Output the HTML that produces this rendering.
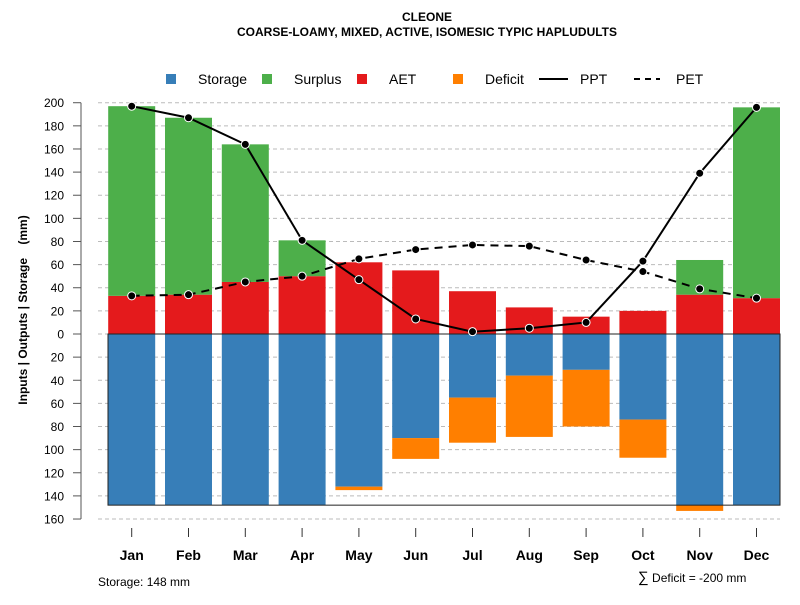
<!DOCTYPE html>
<html><head><meta charset="utf-8"><style>
body{margin:0;background:#fff}
svg text{font-family:"Liberation Sans",Arial,sans-serif}
</style></head><body>
<svg id="chart" width="800" height="600" xmlns="http://www.w3.org/2000/svg">
<text x="427" y="21" font-size="12" font-weight="bold" text-anchor="middle">CLEONE</text>
<text x="427" y="36" font-size="12" font-weight="bold" text-anchor="middle">COARSE-LOAMY, MIXED, ACTIVE, ISOMESIC TYPIC HAPLUDULTS</text>
<g id="legend" font-size="14">
<rect x="166" y="74" width="10" height="10" fill="#377eb8"/><text x="198" y="84">Storage</text>
<rect x="262" y="74" width="10" height="10" fill="#4daf4a"/><text x="294" y="84">Surplus</text>
<rect x="357" y="74" width="10" height="10" fill="#e41a1c"/><text x="389" y="84">AET</text>
<rect x="453" y="74" width="10" height="10" fill="#ff7f00"/><text x="485" y="84">Deficit</text>
<line x1="539" y1="79" x2="568" y2="79" stroke="#000" stroke-width="2"/><text x="580" y="84">PPT</text>
<line x1="634" y1="79" x2="660" y2="79" stroke="#000" stroke-width="2" stroke-dasharray="6,5"/><text x="676" y="84">PET</text>
</g>
<g id="grid"></g><g id="bars"></g><g id="lines"></g><g id="axes"></g>
<text xml:space="preserve" transform="translate(27,310) rotate(-90)" font-size="12" font-weight="bold" text-anchor="middle">Inputs | Outputs | Storage    (mm)</text>
<text x="98" y="586" font-size="12">Storage: 148 mm</text>
<text x="638" y="582" font-size="12"><tspan font-size="15">∑</tspan> Deficit = -200 mm</text>
</svg>
<script>
const months=["Jan","Feb","Mar","Apr","May","Jun","Jul","Aug","Sep","Oct","Nov","Dec"];
const aet=[33,34,45,50,62,55,37,23,15,20,34,31];
const surplus=[164,153,119,31,0,0,0,0,0,0,30,165];
const storage=[148,148,148,148,132,90,55,36,31,74,148,148];
const deficit=[0,0,0,0,3,18,39,53,49,33,5,0];
const ppt=[197,187,164,81,47,13,2,5,10,63,139,196];
const pet=[33,34,45,50,65,73,77,76,64,54,39,31];
const yTicks=[200,180,160,140,120,100,80,60,40,20,0,-20,-40,-60,-80,-100,-120,-140,-160];
const storageMax=148;
const NS="http://www.w3.org/2000/svg";
const y=v=>334-v*1.1564;
const x=i=>131.7+i*56.8;
const bw=47;
function mk(p,t,a){const e=document.createElementNS(NS,t);for(const k in a)e.setAttribute(k,a[k]);document.getElementById(p).appendChild(e);return e;}
yTicks.forEach(v=>{
 const g=mk("grid","line",{x1:98,x2:780,y1:y(v),y2:y(v),stroke:"#bbb","stroke-dasharray":"4,3"});
 
 
 const t=mk("axes","line",{x1:73,x2:81,y1:y(v),y2:y(v),stroke:"#555"});
 
 
 const l=mk("axes","text",{x:64,y:y(v)+4.5,"font-size":12,"text-anchor":"end"});l.textContent=Math.abs(v);
 
 
});
const ax=mk("axes","line",{x1:81,x2:81,y1:y(200),y2:y(-160),stroke:"#555"});


months.forEach((m,i)=>{
 const cx=x(i),x0=cx-bw/2;
 const s=mk("bars","rect",{x:x0,y:y(0),width:bw,height:y(-storage[i])-y(0),fill:"#377eb8"});
 
 
 if(deficit[i]>0){const d=mk("bars","rect",{x:x0,y:y(-storage[i]),width:bw,height:y(-storage[i]-deficit[i])-y(-storage[i]),fill:"#ff7f00"});
 
 }
 const a=mk("bars","rect",{x:x0,y:y(aet[i]),width:bw,height:y(0)-y(aet[i]),fill:"#e41a1c"});
 
 
 if(surplus[i]>0){const su=mk("bars","rect",{x:x0,y:y(aet[i]+surplus[i]),width:bw,height:y(aet[i])-y(aet[i]+surplus[i]),fill:"#4daf4a"});
 
 }
 const tk=mk("axes","line",{x1:cx,x2:cx,y1:528,y2:537,stroke:"#333"});
 
 
 const lb=mk("axes","text",{x:cx,y:560,"font-size":14,"font-weight":"bold","text-anchor":"middle"});lb.textContent=m;
 
 
});
const box=mk("bars","rect",{x:108,y:y(0),width:672,height:y(-storageMax)-y(0),fill:"none",stroke:"#222","stroke-width":1});


const pp=mk("lines","polyline",{points:ppt.map((v,i)=>x(i)+","+y(v)).join(" "),fill:"none",stroke:"#000","stroke-width":2});


const pe=mk("lines","polyline",{points:pet.map((v,i)=>x(i)+","+y(v)).join(" "),fill:"none",stroke:"#000","stroke-width":2,"stroke-dasharray":"8,6"});


[ppt,pet].forEach((arr,k)=>arr.forEach((v,i)=>{
 const c=mk("lines","circle",{cx:x(i),cy:y(v),r:4,fill:"#000",stroke:"#fff","stroke-width":1});
 
 
}));
</script>
</body></html>
